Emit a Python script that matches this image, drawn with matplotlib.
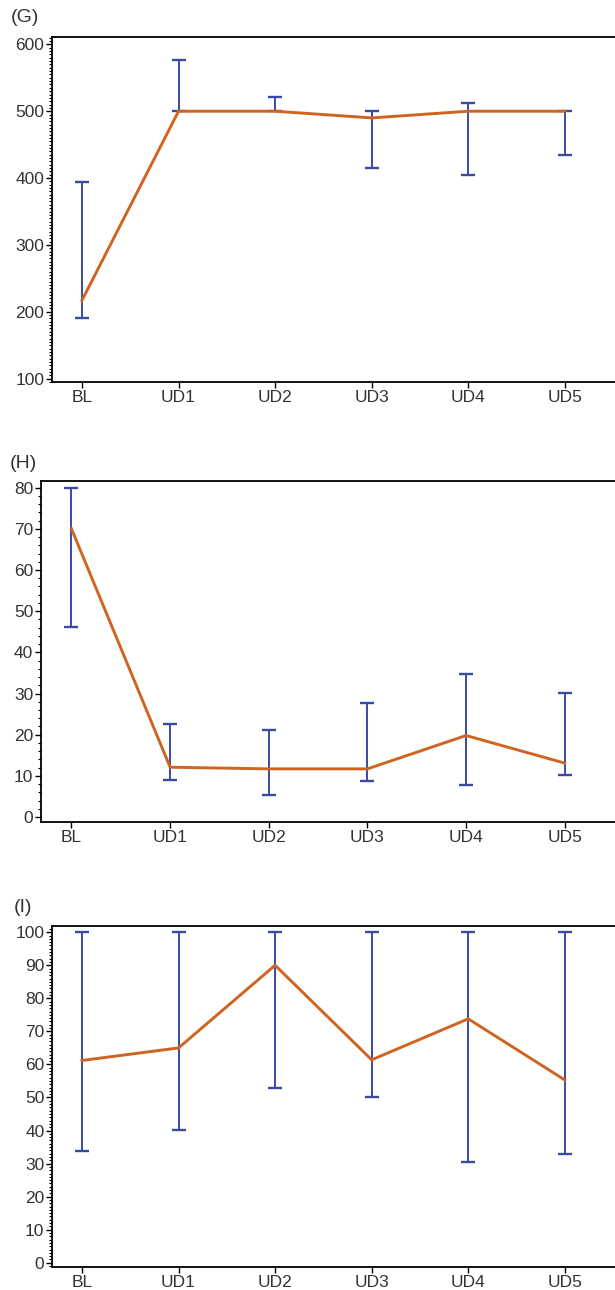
import numpy as np
import matplotlib
matplotlib.use("Agg")
import matplotlib.pyplot as plt
from matplotlib.ticker import MultipleLocator

plt.rcParams['font.family'] = ['Liberation Sans', 'DejaVu Sans']

# Data
visits = ['BL', 'UD1', 'UD2', 'UD3', 'UD4', 'UD5']

g_mid = [217, 500, 500, 490, 500, 500]
g_low = [190, 500, 500, 415, 404, 435]
g_high = [394, 577, 521, 500, 513, 500]

h_mid = [70.0, 12.1, 11.7, 11.7, 19.8, 13.1]
h_low = [46.1, 9.0, 5.3, 8.7, 7.9, 10.3]
h_high = [80.0, 22.6, 21.2, 27.6, 34.7, 30.2]

i_mid = [61.2, 65.0, 90.0, 61.4, 73.8, 55.3]
i_low = [33.7, 40.3, 52.9, 50.2, 30.4, 32.9]
i_high = [100, 100, 100, 100, 100, 100]

LINE_COLOR = '#CF6420'
ERR_COLOR = '#3A4AA3'
TEXT_COLOR = '#333333'


def draw_panel(ax, mid, low, high, ylim, major, minor):
    x = np.arange(len(visits))
    mid = np.array(mid)
    yerr = [mid - np.array(low), np.array(high) - mid]
    ax.errorbar(x, mid, yerr=yerr, fmt='none', ecolor=ERR_COLOR,
                elinewidth=1.4, capsize=5, capthick=1.7, zorder=2)
    ax.plot(x, mid, color=LINE_COLOR, lw=2.1, zorder=3)

    ax.set_xlim(-0.31, 5.6)
    ax.set_ylim(*ylim)
    ax.set_xticks(x)
    ax.set_xticklabels(visits)
    ax.yaxis.set_major_locator(MultipleLocator(major))
    ax.yaxis.set_minor_locator(MultipleLocator(minor))
    ax.tick_params(axis='both', which='major', length=4, width=1.0,
                   labelsize=12.5, colors='black', labelcolor=TEXT_COLOR, pad=1.5)
    ax.tick_params(axis='y', which='minor', length=2, width=0.8)
    for s in ax.spines.values():
        s.set_linewidth(1.3)


fig = plt.figure(figsize=(6.15, 12.9), dpi=100)

ax_g = fig.add_axes([0.0846, 0.7039, 0.928, 0.2674])
draw_panel(ax_g, g_mid, g_low, g_high, (95, 611), 100, 5)
fig.text(11 / 615, 1 - 18 / 1290, '(G)', fontsize=14, color=TEXT_COLOR,
         ha='left', va='center')

ax_h = fig.add_axes([0.0665, 0.3628, 0.948, 0.2643])
draw_panel(ax_h, h_mid, h_low, h_high, (-1.2, 81.6), 10, 2)
fig.text(10 / 615, 1 - 463 / 1290, '(H)', fontsize=14, color=TEXT_COLOR,
         ha='left', va='center')

ax_i = fig.add_axes([0.0846, 0.0178, 0.928, 0.2644])
draw_panel(ax_i, i_mid, i_low, i_high, (-1.3, 101.9), 10, 1)
fig.text(14 / 615, 1 - 908 / 1290, '(I)', fontsize=14, color=TEXT_COLOR,
         ha='left', va='center')

fig.savefig('out.png', dpi=100)
